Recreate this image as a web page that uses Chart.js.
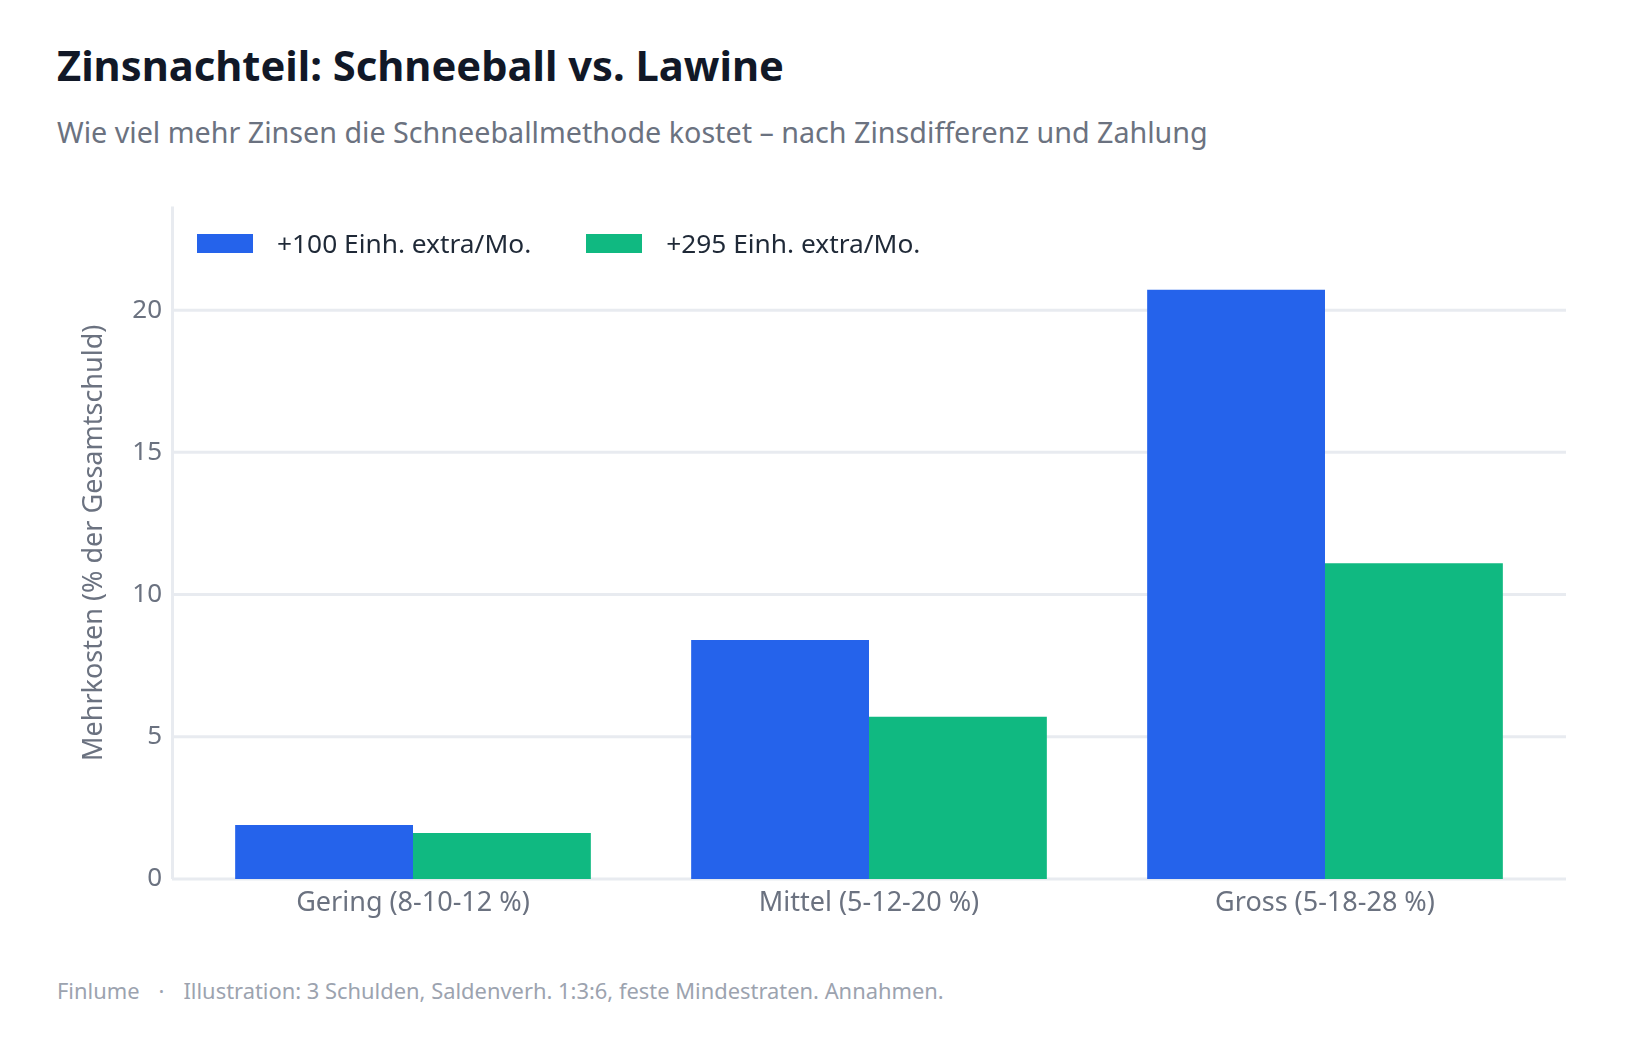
<!DOCTYPE html>
<html>
<head>
<meta charset="utf-8">
<script src="https://cdn.jsdelivr.net/npm/chart.js@4"></script>
<style>
body{margin:0;background:#fff;font-family:"Noto Sans",sans-serif;}
#wrap{position:relative;width:1639px;height:1040px;overflow:hidden;}
#title{position:absolute;left:57px;top:44px;font-size:41.7px;line-height:42px;font-weight:700;color:#111827;white-space:nowrap;}
#subtitle{position:absolute;left:57px;top:118px;font-size:28.7px;line-height:28.7px;color:#6b7280;white-space:nowrap;}
#chart{position:absolute;left:0;top:176px;}
#legend{position:absolute;left:197px;top:234px;display:flex;gap:55px;}
.item{display:flex;align-items:center;height:19px;}
.box{width:56px;height:19px;margin-right:24px;}
.lbl{font-size:26.3px;line-height:26.3px;color:#1f2937;white-space:nowrap;}
#footer{position:absolute;left:57px;top:980px;font-size:21.9px;line-height:22px;color:#9ca3af;white-space:nowrap;}
#footer .dot{margin:0 19px;}
</style>
</head>
<body>
<div id="wrap">
<div id="title">Zinsnachteil: Schneeball vs. Lawine</div>
<div id="subtitle">Wie viel mehr Zinsen die Schneeballmethode kostet – nach Zinsdifferenz und Zahlung</div>
<canvas id="chart" width="1639" height="754"></canvas>
<div id="legend"></div>
<div id="footer">Finlume<span class="dot">·</span>Illustration: 3 Schulden, Saldenverh. 1:3:6, feste Mindestraten. Annahmen.</div>
</div>

<script>
// data
const categories = ["Gering (8-10-12 %)", "Mittel (5-12-20 %)", "Gross (5-18-28 %)"]
const seriesNames = ["+100 Einh. extra/Mo.", "+295 Einh. extra/Mo."]
const extra100 = [1.9, 8.4, 20.72]
const extra295 = [1.62, 5.7, 11.1]
const colors = ["#2563eb", "#10b981"]
const yTitle = "Mehrkosten (% der Gesamtschuld)"

// light grid that runs a little past the plot on both sides
const gridPlugin = {
  id: "grid",
  beforeDatasetsDraw(chart){
    let ctx = chart.ctx
    let a = chart.chartArea
    let y = chart.scales.y
    ctx.save()
    ctx.strokeStyle = "#e8ebf0"
    ctx.lineWidth = 3
    y.ticks.forEach(t => {
      let py = y.getPixelForValue(t.value)
      ctx.beginPath()
      ctx.moveTo(a.left - 13, py)
      ctx.lineTo(a.right + 13, py)
      ctx.stroke()
    })
    ctx.beginPath()
    ctx.moveTo(a.left - 12.5, a.top)
    ctx.lineTo(a.left - 12.5, a.bottom)
    ctx.stroke()
    ctx.restore()
  }
}

let chart = new Chart(document.getElementById("chart"), {
  type: "bar",
  data: {
    labels: categories,
    datasets: [
      {label: seriesNames[0], data: extra100, backgroundColor: colors[0]},
      {label: seriesNames[1], data: extra295, backgroundColor: colors[1]}
    ]
  },
  options: {
    responsive: false,
    devicePixelRatio: 1,
    animation: false,
    categoryPercentage: 0.78,
    barPercentage: 1.0,
    layout: {padding: {left: 74, right: 86, top: 17, bottom: 0}},
    plugins: {legend: {display: false}, tooltip: {enabled: false}},
    scales: {
      x: {
        grid: {display: false},
        border: {display: false},
        ticks: {color: "#6b7280", font: {family: "Noto Sans", size: 27}, padding: 0},
        afterFit(s){ s.height = 51 }
      },
      y: {
        min: 0,
        max: 23.64,
        grid: {display: false},
        border: {display: false},
        ticks: {stepSize: 5, color: "#6b7280", font: {family: "Noto Sans", size: 26}, padding: 15},
        afterBuildTicks(s){ s.ticks = s.ticks.filter(t => t.value % 5 === 0) },
        afterFit(s){ s.width = 111 },
        title: {display: true, text: yTitle, color: "#6b7280", font: {family: "Noto Sans", size: 27}}
      }
    }
  },
  plugins: [gridPlugin]
})

// legend as html, laid over the plot like the original
let html = ""
chart.data.datasets.forEach(d => {
  html += `<div class="item"><div class="box" style="background:${d.backgroundColor}"></div><span class="lbl">${d.label}</span></div>`
})
document.getElementById("legend").innerHTML = html
</script>
</body>
</html>
